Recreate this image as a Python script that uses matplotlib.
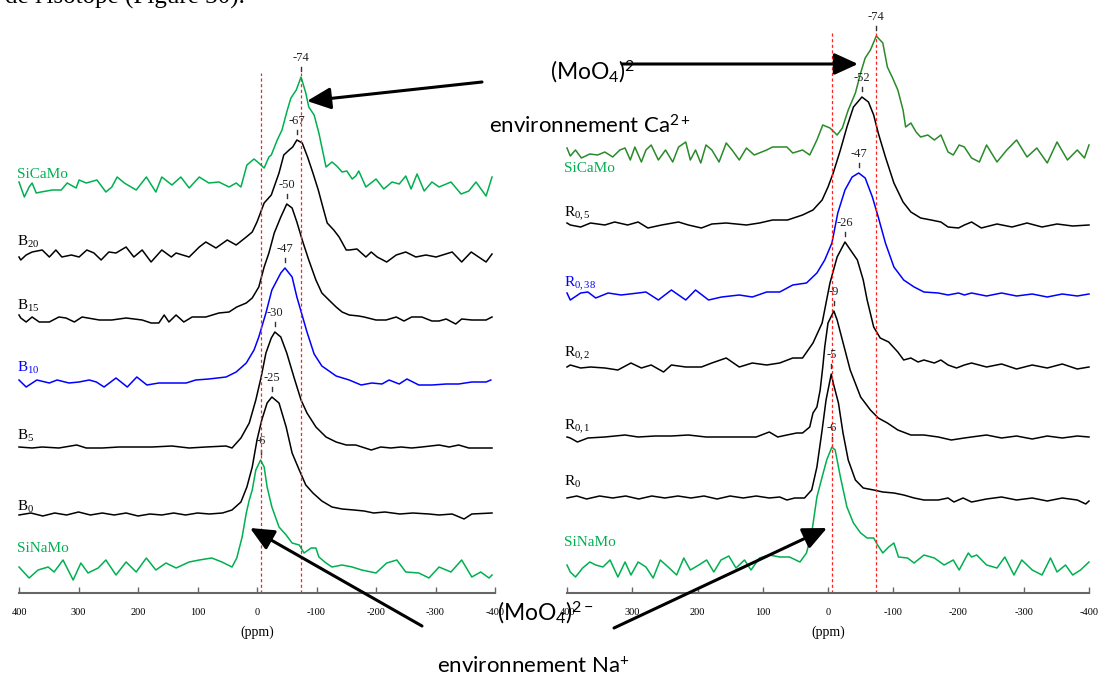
import numpy as np
import matplotlib
matplotlib.use("Agg")
import matplotlib.pyplot as plt
from matplotlib.patches import FancyArrowPatch

plt.rcParams['font.family'] = ['Liberation Serif', 'DejaVu Serif']
plt.rcParams['mathtext.fontset'] = 'custom'
plt.rcParams['mathtext.rm'] = 'Liberation Serif'
plt.rcParams['mathtext.it'] = 'Liberation Serif:italic'
plt.rcParams['mathtext.sf'] = 'Lato'
plt.rcParams['axes.unicode_minus'] = False

W, H = 1101, 677

# ---------------- left panel (B series) : ppm / intensity
sicamo_b_ppm = [400, 391, 383, 378, 371, 363, 344, 329, 319, 304, 299, 287, 269, 254, 244, 235, 223, 203, 186, 170,
                160, 143, 128, 114, 97, 81, 64, 47, 35, 27, 17, 5, -3, -12, -20, -24, -34, -42, -50, -57,
                -66, -74, -82, -87, -96, -104, -116, -126, -134, -143, -151, -160, -166, -171, -183, -200, -213, -227, -239, -250,
                -259, -269, -281, -294, -306, -326, -343, -356, -368, -385, -395]
sicamo_b_int = [5, -10, 0, 4, -6, -5, -3, -3, 4, -1, 7, 4, 7, -5, 0, 10, 4, -3, 10, -5,
                10, 2, 10, -1, 10, 4, 5, 0, 4, 0, 22, 28, 24, 19, 30, 32, 47, 57, 75, 89,
                97, 110, 94, 80, 72, 54, 20, 25, 21, 15, 16, 8, 11, 16, 0, 8, -2, 5, 3, 11,
                -2, 13, -4, 5, 0, 5, -7, -4, 5, -9, 10]

b20_ppm = [400, 397, 388, 378, 361, 349, 338, 328, 312, 299, 286, 274, 262, 249, 237, 220, 207, 193, 178, 160,
           144, 136, 114, 97, 86, 69, 50, 35, 18, 8, 0, -12, -24, -37, -45, -54, -60, -67, -76, -85,
           -94, -103, -112, -118, -129, -138, -150, -155, -168, -183, -192, -202, -218, -234, -250, -267, -284, -301, -328, -344,
           -360, -385, -395]
b20_int = [1, -2, 3, 6, 8, 1, 8, 1, 3, 1, 8, 5, -2, 6, 5, 11, 1, 8, -4, 8,
           1, 5, 1, 11, 16, 10, 18, 13, 21, 26, 36, 55, 63, 85, 103, 108, 111, 118, 115, 101,
           85, 68, 48, 35, 28, 21, 8, 8, 9, 1, 6, 1, -4, 3, 6, 1, 3, 1, 6, -4,
           6, -4, 4]

b15_ppm = [400, 397, 388, 378, 366, 349, 333, 321, 307, 294, 265, 244, 220, 193, 178, 165, 156, 148, 136, 123,
           109, 86, 64, 47, 34, 18, 8, -3, -12, -20, -29, -40, -50, -59, -67, -76, -87, -99, -109, -126,
           -133, -143, -155, -171, -180, -200, -217, -234, -247, -260, -277, -294, -306, -318, -334, -344, -361, -385, -395]
b15_int = [3, 0, -4, 1, -4, -4, 1, 0, -4, 1, -2, -2, 0, -2, -5, -5, 3, -4, 3, -4,
           1, 1, 5, 6, 11, 15, 20, 31, 51, 65, 85, 101, 114, 110, 96, 78, 58, 38, 25, 15,
           11, 6, 3, 2, 1, -2, -2, 1, -3, 1, 1, -3, -3, -1, -6, -1, -2, -2, 1]

b10_ppm = [400, 388, 370, 349, 336, 316, 299, 282, 270, 257, 237, 218, 202, 185, 165, 143, 119, 103, 81, 52,
           35, 18, 5, -3, -15, -25, -40, -47, -59, -67, -84, -96, -109, -133, -155, -175, -193, -210, -222, -239,
           -252, -272, -294, -318, -339, -361, -385, -393]
b10_int = [1, -6, 1, -2, 1, -2, -1, 1, -1, -6, 3, -6, 4, -4, -2, -2, -2, 1, 2, 4,
           9, 18, 31, 44, 68, 91, 108, 113, 104, 84, 49, 27, 15, 5, 1, -4, -2, -3, 1, -3,
           2, -4, -4, -3, -3, -1, -1, 1]

b5_ppm = [400, 378, 361, 333, 303, 287, 260, 232, 203, 176, 143, 114, 86, 52, 42, 27, 13, 2, -7, -15,
          -24, -30, -40, -50, -62, -74, -84, -99, -116, -133, -150, -166, -192, -208, -225, -242, -260, -277, -306, -323,
          -339, -356, -373, -395]
b5_int = [1, 0, 1, 0, 3, 0, 0, 1, 1, 1, 2, 0, 1, 2, 0, 10, 25, 48, 71, 95,
          110, 116, 111, 95, 71, 48, 35, 21, 11, 6, 3, 3, -2, 1, 0, 1, 0, 1, 3, 1,
          3, 0, 0, 0]

b0_ppm = [400, 380, 360, 340, 320, 300, 280, 260, 240, 220, 200, 180, 160, 140, 120, 100, 80, 58, 42, 27,
          17, 8, 0, -8, -17, -25, -37, -49, -59, -71, -82, -94, -109, -126, -143, -163, -180, -196, -215, -240,
          -262, -289, -306, -328, -348, -361, -395]
b0_int = [0, 2, -1, 2, 0, 3, 0, 2, 0, 2, -1, 1, 0, 2, 0, 2, 1, 2, 5, 13,
          28, 48, 75, 95, 112, 118, 112, 88, 62, 45, 30, 22, 14, 8, 6, 5, 4, 2, 3, 1,
          2, 1, 0, 1, -4, 1, 2]

sinamo_b_ppm = [400, 383, 368, 351, 341, 326, 309, 296, 284, 267, 254, 237, 220, 203, 186, 170, 153, 136, 114, 97,
                76, 59, 42, 34, 25, 18, 13, 8, 2, -6, -12, -17, -25, -37, -49, -59, -71, -79, -91, -99,
                -104, -116, -126, -143, -160, -176, -200, -218, -235, -250, -272, -289, -306, -326, -344, -361, -376, -390, -395]
sinamo_b_int = [0, -11, -3, 0, -5, 7, -13, 4, -6, -1, 7, -8, 5, -5, 9, -3, 4, -1, 5, 7,
                9, 5, 0, 9, 30, 54, 67, 77, 97, 107, 100, 80, 60, 40, 32, 24, 22, 14, 19, 19,
                10, 4, 0, 2, 0, -3, -6, 4, 7, -5, -6, -11, 0, -5, 7, -10, -5, -11, -8]

# ---------------- right panel (R series)
sicamo_r_ppm = [400, 395, 387, 378, 365, 353, 342, 330, 319, 311, 303, 296, 286, 279, 271, 260, 249, 238, 229, 218,
                211, 203, 195, 187, 178, 167, 156, 147, 136, 125, 113, 94, 85, 74, 63, 54, 39, 28, 17, 8,
                -3, -14, -22, -31, -42, -50, -57, -65, -74, -84, -91, -99, -107, -115, -119, -127, -135, -142, -153, -163,
                -173, -184, -192, -201, -209, -220, -232, -243, -259, -274, -289, -305, -320, -336, -351, -367, -382, -393, -400]
sicamo_r_int = [4, -4, 2, -6, -2, -3, 0, -5, 2, 4, -8, 5, -10, 2, 7, -8, 2, -10, 5, 10,
                -8, 2, -11, 7, 2, -10, 9, 2, -8, 4, -3, 2, 5, 5, 5, -1, 2, -3, 12, 27,
                24, 17, 24, 42, 59, 79, 94, 102, 116, 109, 85, 74, 62, 42, 25, 29, 20, 15, 17, 12,
                17, 0, -3, 7, 5, -6, -10, 7, -10, 2, 12, -5, 4, -11, 10, -8, 2, -6, 7]

r05_ppm = [400, 395, 379, 364, 342, 327, 307, 291, 276, 255, 229, 214, 194, 178, 156, 125, 105, 85, 62, 39,
           23, 9, 0, -8, -19, -29, -39, -52, -62, -70, -77, -88, -101, -115, -127, -142, -158, -173, -184, -200,
           -209, -220, -235, -259, -282, -305, -328, -351, -375, -400]
r05_int = [2, 0, -2, 2, 0, 3, 0, 3, -3, 0, 3, 0, -3, 1, 2, 0, 2, 5, 5, 10,
           15, 25, 38, 52, 75, 98, 118, 128, 123, 110, 92, 68, 42, 23, 13, 7, 5, 3, -2, -3,
           0, 3, -3, 1, -2, 2, -2, 1, -1, 0]

r038_ppm = [400, 395, 379, 368, 356, 337, 317, 291, 279, 260, 240, 218, 203, 183, 163, 136, 116, 94, 74, 54,
            33, 17, 5, -6, -15, -26, -37, -47, -57, -68, -77, -88, -101, -116, -132, -147, -169, -184, -200, -209,
            -220, -243, -266, -289, -313, -336, -359, -382, -400]
r038_int = [2, -5, 2, 3, -3, 2, 0, 2, 3, -5, 5, -5, 5, -5, -2, 0, -2, 3, 3, 10,
            12, 22, 35, 52, 82, 105, 118, 122, 117, 98, 78, 52, 28, 15, 8, 3, 2, 0, 2, 0,
            2, -1, 2, -1, 1, -2, 1, -1, 1]

r02_ppm = [400, 395, 379, 364, 342, 322, 302, 286, 271, 252, 240, 218, 194, 178, 156, 136, 116, 94, 74, 54,
           39, 23, 9, -3, -14, -26, -45, -54, -60, -70, -80, -93, -107, -116, -127, -138, -147, -163, -173, -184,
           -197, -209, -220, -243, -266, -289, -313, -336, -359, -382, -400]
r02_int = [0, 2, -1, 0, -1, -3, 4, -1, 2, -5, 2, 0, 0, 4, 9, 0, 4, 2, 4, 9,
           9, 24, 44, 84, 110, 125, 107, 87, 67, 40, 29, 25, 15, 7, 9, 5, 7, 4, 7, 2,
           -1, 2, 4, 0, 3, -2, 2, -1, 3, -2, 0]

r01_ppm = [400, 395, 384, 368, 342, 311, 291, 265, 240, 214, 187, 156, 136, 110, 90, 77, 63, 48, 39, 28,
           23, 17, 12, 8, 5, 0, -9, -14, -22, -34, -50, -65, -77, -91, -107, -127, -147, -169, -189, -209,
           -220, -243, -266, -289, -313, -336, -359, -382, -400]
r01_int = [0, -1, -5, -1, 0, 2, 0, 1, 1, 2, 0, 0, 0, 0, 5, 0, 2, 4, 4, 10,
           24, 30, 47, 70, 90, 114, 126, 117, 97, 67, 40, 27, 19, 14, 7, 2, 2, 0, -3, -1,
           0, 2, -1, 1, -2, 1, -1, 1, 0]

r0_ppm = [400, 385, 370, 350, 330, 310, 290, 270, 250, 230, 210, 190, 170, 150, 130, 110, 90, 74, 63, 51,
          36, 25, 17, 9, 3, -5, -8, -16, -23, -31, -42, -54, -70, -84, -101, -116, -132, -147, -169, -184,
          -193, -207, -220, -243, -266, -289, -313, -336, -359, -382, -395, -400]
r0_int = [0, 2, -1, 2, 0, 2, -1, 2, 0, 2, 0, 2, -1, 2, 0, 2, 0, 1, -2, 0,
          0, 8, 31, 68, 98, 124, 115, 95, 65, 38, 18, 10, 8, 6, 5, 3, 0, -2, -2, 0,
          -4, 0, -4, -1, 1, -2, 0, -3, 0, -2, -6, -3]

sinamo_r_ppm = [400, 395, 387, 376, 365, 356, 345, 334, 322, 311, 302, 291, 279, 268, 257, 245, 232, 221, 211, 198,
                186, 175, 164, 152, 141, 128, 118, 105, 90, 74, 59, 43, 33, 25, 17, 9, 2, -6, -11, -19,
                -29, -39, -50, -60, -70, -76, -84, -93, -101, -108, -122, -132, -147, -163, -178, -192, -201, -215, -220, -228,
                -243, -259, -271, -285, -297, -313, -328, -341, -351, -364, -375, -387, -400]
sinamo_r_int = [0, -7, -12, -3, 3, 0, -2, 5, -12, 3, -10, 3, -2, -13, 5, -2, -10, 7, -5, 0,
                5, -7, 5, 9, -3, 5, -5, 7, 10, 8, 8, 3, 12, 32, 68, 88, 105, 118, 115, 88,
                58, 42, 32, 27, 27, 20, 12, 18, 22, 8, 7, 2, 10, 7, 0, 5, -5, 12, 8, 10,
                0, -3, 8, -10, 5, -5, -10, 7, -7, 0, -10, -5, 3]

left_names = ['SiCaMo', r'B$_{\mathrm{20}}$', r'B$_{\mathrm{15}}$', r'B$_{\mathrm{10}}$',
              r'B$_{\mathrm{5}}$', r'B$_{\mathrm{0}}$', 'SiNaMo']
left_peaks = [-74, -67, -50, -47, -30, -25, -6]
right_names = ['SiCaMo', r'R$_{\mathrm{0,5}}$', r'R$_{\mathrm{0,38}}$', r'R$_{\mathrm{0,2}}$',
               r'R$_{\mathrm{0,1}}$', r'R$_{\mathrm{0}}$', 'SiNaMo']
right_peaks = [-74, -52, -47, -26, -9, -5, -6]
ref_lines = [-6, -74]
ppm_ticks = [400, 300, 200, 100, 0, -100, -200, -300, -400]

left_series = [(sicamo_b_ppm, sicamo_b_int), (b20_ppm, b20_int), (b15_ppm, b15_int), (b10_ppm, b10_int),
               (b5_ppm, b5_int), (b0_ppm, b0_int), (sinamo_b_ppm, sinamo_b_int)]
right_series = [(sicamo_r_ppm, sicamo_r_int), (r05_ppm, r05_int), (r038_ppm, r038_int), (r02_ppm, r02_int),
                (r01_ppm, r01_int), (r0_ppm, r0_int), (sinamo_r_ppm, sinamo_r_int)]

GREEN = '#00B050'
DKGREEN = '#2A8A2A'
BLUE = '#0000FF'

left_colors = [GREEN, 'black', 'black', BLUE, 'black', 'black', GREEN]
left_lcolors = left_colors
right_colors = [DKGREEN, 'black', BLUE, 'black', 'black', 'black', GREEN]
right_lcolors = [GREEN, 'black', BLUE, 'black', 'black', 'black', GREEN]

# stacking offsets and label heights (pixel-like units above the axis line)
left_offsets = [406, 335, 275, 212, 145, 78, 26]
left_label_y = [418, 351, 287, 225, 157, 86, 45]
right_offsets = [441, 368, 298, 226, 156, 95, 28]
right_label_y = [425, 379, 309, 239, 166, 111, 51]

fig = plt.figure(figsize=(W / 100, H / 100), dpi=100)
axL = fig.add_axes([19 / W, 84 / H, 476 / W, 593 / H])
axR = fig.add_axes([567 / W, 84 / H, 522 / W, 593 / H])


def draw_panel(ax, series, names, peaks, colors, lcolors, offsets, label_y, line_top):
    for (ppm, inten), name, pk, c, lc, off, ly in zip(series, names, peaks, colors, lcolors, offsets, label_y):
        ppm = np.array(ppm)
        inten = np.array(inten)
        ax.plot(ppm, inten + off, color=c, lw=1.1, clip_on=False, solid_joinstyle='round')
        ax.text(404, ly, name, color=lc, fontsize=11, ha='left', va='center')
        top = inten.max() + off
        ax.plot([pk, pk], [top + 6, top + 10], color='#333333', lw=1)
        ax.text(pk, top + 19, str(pk), fontsize=9, ha='center', va='center', color='#222222')
    for r in ref_lines:
        ax.plot([r, r], [0, line_top], color='#FF2020', lw=0.9, ls=(0, (2.5, 2)))
    ax.set_xlim(400, -400)
    ax.set_ylim(0, 593)
    for s in ['left', 'right', 'top']:
        ax.spines[s].set_visible(False)
    ax.spines['bottom'].set_color('#666666')
    ax.spines['bottom'].set_linewidth(1.5)
    ax.set_yticks([])
    ax.set_xticks(ppm_ticks)
    ax.set_xticklabels([str(t) for t in ppm_ticks])
    ax.tick_params(axis='x', direction='in', length=4, width=1, color='#666666', labelsize=7.5, pad=11)
    ax.set_xlabel('(ppm)', fontsize=10, labelpad=6)
    ax.patch.set_alpha(0)


draw_panel(axL, left_series, left_names, left_peaks, left_colors, left_lcolors, left_offsets, left_label_y, 520)
draw_panel(axR, right_series, right_names, right_peaks, right_colors, right_lcolors, right_offsets, right_label_y, 560)


def fx(x):
    return x / W


def fy(y):
    return 1 - y / H


# cut-off line of body text at the very top
fig.text(fx(245), fy(4), "de l'isotope (Figure 30).", fontsize=18, ha='right', va='baseline',
         family=['Liberation Serif'])

sans = ['Lato', 'DejaVu Sans']
fig.text(fx(550), fy(72), r'(MoO$_{\mathsf{4}}$)$^{\mathsf{2}}$', fontsize=16.5, family=sans, ha='left', va='center')
fig.text(fx(489), fy(125), r'environnement Ca$^{\mathsf{2+}}$', fontsize=16, family=sans, ha='left', va='center')
fig.text(fx(497), fy(613), r'(MoO$_{\mathsf{4}}$)$^{\mathsf{2-}}$', fontsize=16.5, family=sans, ha='left', va='center')
fig.text(fx(437), fy(667), r'environnement Na$^{\mathsf{+}}$', fontsize=16, family=sans, ha='left', va='center')

arrows = [((482, 82), (307, 101)), ((622, 64), (858, 64)),
          ((422, 626), (250, 528)), ((614, 628), (827, 528))]
for (x0, y0), (x1, y1) in arrows:
    a = FancyArrowPatch((fx(x0), fy(y0)), (fx(x1), fy(y1)), transform=fig.transFigure,
                        arrowstyle='-|>,head_length=1.2,head_width=0.55', mutation_scale=12,
                        lw=2.2, color='black', shrinkA=0, shrinkB=0, zorder=10)
    fig.add_artist(a)

fig.savefig('out.png', dpi=100)
